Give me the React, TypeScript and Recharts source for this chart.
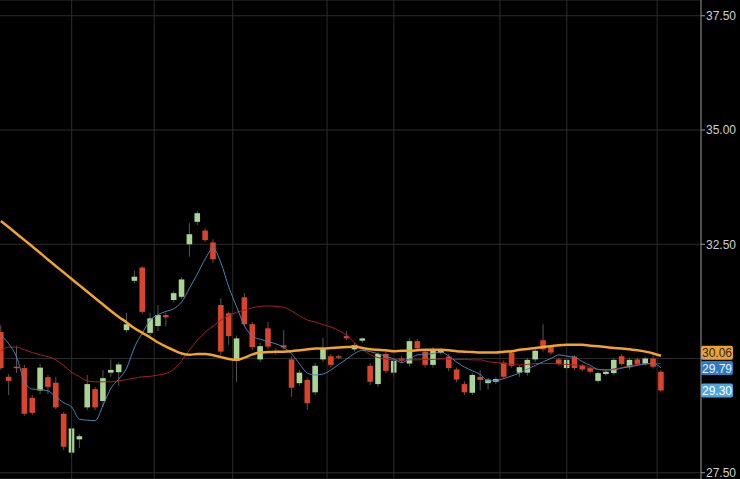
import React from 'react';
import { ComposedChart, Bar, Line, XAxis, YAxis, CartesianGrid, ReferenceLine } from 'recharts';

// daily candles (oldest first)
const opens = [
    30.58, 29.60, 29.82, 29.79, 29.14, 29.30, 29.59, 29.47, 28.79, 27.94,
    28.23, 28.93, 29.33, 29.07, 29.69, 29.70, 30.62, 31.70, 31.99, 30.56,
    30.71, 30.95, 31.28, 31.35, 32.50, 32.99, 32.80, 32.54, 31.17, 30.99,
    29.95, 31.34, 30.75, 29.98, 30.66, 30.16, 30.29, 29.98, 29.46, 29.53,
    29.26, 29.98, 30.05, 30.05, 30.49, 30.20, 30.39, 29.84, 29.44, 30.10,
    29.69, 30.00, 29.89, 30.38, 30.15, 29.86, 30.12, 30.04, 29.76, 29.44,
    29.25, 29.60, 29.46, 29.49, 29.91, 30.13, 29.69, 29.69, 29.98, 30.40,
    30.25, 29.98, 29.79, 30.04, 29.84, 29.79, 29.51, 29.66, 29.68, 30.05,
    29.81, 29.98, 29.88, 30.00, 29.71,
];
const highs = [
    30.73, 29.66, 30.28, 29.86, 29.20, 29.88, 29.64, 29.60, 28.83, 28.52,
    28.35, 29.64, 29.38, 29.75, 29.98, 29.92, 31.00, 31.92, 32.02, 31.00,
    31.17, 31.00, 31.48, 31.78, 32.96, 33.23, 32.85, 32.61, 31.32, 31.03,
    30.50, 31.43, 30.80, 30.35, 30.80, 30.22, 30.62, 30.05, 29.75, 29.58,
    29.90, 30.45, 30.10, 30.08, 30.60, 30.35, 30.46, 29.90, 30.15, 30.20,
    30.00, 30.05, 30.45, 30.43, 30.20, 30.25, 30.22, 30.10, 29.80, 29.50,
    29.68, 29.75, 29.58, 29.60, 29.96, 30.19, 29.85, 30.02, 30.22, 30.75,
    30.30, 30.02, 30.00, 30.08, 29.88, 29.82, 29.72, 29.75, 30.00, 30.10,
    30.02, 30.02, 30.04, 30.06, 29.75,
];
const lows = [
    29.75, 29.20, 29.68, 28.75, 28.76, 29.22, 29.22, 28.89, 28.00, 27.82,
    28.04, 28.87, 28.87, 28.94, 29.60, 29.40, 30.56, 31.65, 30.98, 30.50,
    30.60, 30.70, 31.22, 31.30, 32.23, 32.92, 32.55, 32.09, 30.08, 30.30,
    29.49, 30.70, 30.18, 29.92, 30.20, 30.08, 30.20, 29.16, 29.40, 28.88,
    29.20, 29.92, 29.80, 29.98, 30.40, 30.15, 30.34, 29.42, 29.38, 29.68,
    29.60, 29.90, 29.82, 30.18, 29.80, 29.80, 30.08, 29.72, 29.48, 29.20,
    29.20, 29.30, 29.32, 29.44, 29.55, 29.80, 29.60, 29.63, 29.92, 30.15,
    30.08, 29.84, 29.74, 29.74, 29.72, 29.67, 29.46, 29.62, 29.63, 29.84,
    29.76, 29.84, 29.84, 29.78, 29.26,
];
const closes = [
    29.79, 29.51, 29.80, 28.79, 28.81, 29.80, 29.38, 28.93, 28.07, 28.47,
    28.30, 29.44, 28.93, 29.57, 29.75, 29.87, 30.75, 31.79, 31.02, 30.88,
    30.95, 30.90, 31.43, 31.73, 32.72, 33.18, 32.59, 32.17, 30.15, 30.49,
    30.44, 30.75, 30.25, 30.27, 30.26, 30.12, 30.24, 29.36, 29.69, 29.02,
    29.84, 30.22, 29.86, 30.03, 30.44, 30.29, 30.44, 29.49, 30.10, 29.73,
    29.95, 29.95, 30.38, 30.22, 29.86, 30.19, 30.18, 29.79, 29.54, 29.26,
    29.64, 29.53, 29.54, 29.55, 29.60, 29.84, 29.81, 29.97, 30.17, 30.20,
    30.13, 29.88, 29.97, 29.79, 29.76, 29.71, 29.68, 29.71, 29.97, 29.88,
    29.97, 29.88, 30.00, 29.82, 29.30,
];

// moving averages as drawn on the chart
const maFast = [
    30.51, 30.32, 30.03, 29.49, 29.33, 29.32, 29.29, 29.16, 29.03, 28.94,
    28.67, 28.65, 28.64, 28.98, 29.35, 29.55, 29.79, 30.25, 30.56, 30.84,
    30.96, 31.03, 31.09, 31.24, 31.54, 31.85, 32.18, 32.41, 32.09, 31.56,
    31.13, 30.71, 30.49, 30.42, 30.37, 30.32, 30.24, 30.10, 29.88, 29.68,
    29.64, 29.66, 29.75, 29.87, 29.99, 30.11, 30.18, 30.15, 30.10, 30.05,
    29.99, 29.91, 29.99, 30.08, 30.09, 30.11, 30.14, 30.05, 29.92, 29.81,
    29.73, 29.65, 29.51, 29.52, 29.56, 29.62, 29.68, 29.77, 29.85, 29.93,
    30.00, 30.08, 30.05, 30.03, 29.93, 29.85, 29.76, 29.75, 29.75, 29.79,
    29.82, 29.85, 29.88, 29.89, 29.79,
];
const maMid = [
    30.16, 30.25, 30.25, 30.19, 30.13, 30.08, 30.04, 29.97, 29.84, 29.70,
    29.60, 29.51, 29.49, 29.49, 29.49, 29.51, 29.54, 29.57, 29.60, 29.61,
    29.64, 29.67, 29.77, 29.95, 30.19, 30.40, 30.58, 30.71, 30.84, 30.94,
    31.01, 31.06, 31.11, 31.14, 31.15, 31.14, 31.12, 31.04, 30.93, 30.84,
    30.80, 30.74, 30.69, 30.61, 30.51, 30.34, 30.20, 30.08, 30.02, 29.99,
    29.97, 29.97, 29.97, 29.97, 29.98, 29.98, 29.99, 29.99, 29.98, 29.98,
    29.97, 29.97, 29.93, 29.91, 29.89, 29.87, 29.86, 29.87, 29.89, 29.89,
    29.89, 29.88, 29.87, 29.86, 29.85, 29.80, 29.76, 29.75, 29.77, 29.80,
    29.84, 29.87, 29.88, 29.89, 29.89,
];
const maSlow = [
    33.01, 32.87, 32.73, 32.59, 32.45, 32.31, 32.16, 32.02, 31.88, 31.74,
    31.60, 31.46, 31.32, 31.18, 31.04, 30.91, 30.79, 30.66, 30.56, 30.46,
    30.35, 30.26, 30.18, 30.11, 30.08, 30.10, 30.10, 30.07, 30.03, 29.99,
    29.97, 30.02, 30.09, 30.13, 30.14, 30.15, 30.15, 30.16, 30.18, 30.20,
    30.22, 30.22, 30.23, 30.24, 30.25, 30.26, 30.23, 30.20, 30.19, 30.18,
    30.16, 30.17, 30.17, 30.18, 30.19, 30.19, 30.19, 30.18, 30.16, 30.15,
    30.14, 30.13, 30.13, 30.13, 30.15, 30.16, 30.19, 30.21, 30.23, 30.25,
    30.27, 30.29, 30.30, 30.30, 30.30, 30.28, 30.27, 30.25, 30.23, 30.22,
    30.20, 30.18, 30.15, 30.11, 30.06,
];

const priceTicks = [27.5, 30, 32.5, 35, 37.5];
// candle indexes where the period separators fall
const separators: { day: number; pos: 'start' | 'middle' }[] = [
    { day: 9, pos: 'middle' },
    { day: 20, pos: 'start' },
    { day: 30, pos: 'start' },
    { day: 42, pos: 'start' },
    { day: 50, pos: 'middle' },
    { day: 64, pos: 'start' },
    { day: 72, pos: 'middle' },
    { day: 84, pos: 'start' },
];

const data = opens.map((open, i) => ({
    i,
    open,
    high: highs[i],
    low: lows[i],
    close: closes[i],
    fast: maFast[i],
    mid: maMid[i],
    slow: maSlow[i],
}));

const UP = '#a9d593';
const DOWN = '#d9442b';
const GRID = '#2c2c2c';
const FONT = 'Liberation Sans, Arial, sans-serif';

const Candle = (props: any) => {
    const { x, y, width, height, payload } = props;
    const { open, close, high, low } = payload;
    const span = high - low;
    const ppu = span > 0 ? height / span : 0;
    const cx = x + width / 2;
    const toY = (v: number) => y + (high - v) * ppu;
    const top = toY(Math.max(open, close));
    const bottom = toY(Math.min(open, close));
    const fill = close >= open ? UP : DOWN;
    return (
        <g>
            <line x1={cx} x2={cx} y1={y} y2={y + height} stroke="#555" strokeWidth={1} />
            <rect x={cx - 2.8} y={top} width={5.6} height={Math.max(bottom - top, 1.5)} fill={fill} />
        </g>
    );
};

const badge = (text: string, bg: string, color: string, dy = 0) => (props: any) => {
    const { viewBox } = props;
    const left = viewBox.x + viewBox.width;
    const cy = viewBox.y + dy;
    return (
        <g>
            <rect x={left} y={cy - 7} width={32} height={14} rx={2} fill={bg} />
            <text x={left + 16} y={cy + 4.5} textAnchor="middle" fontSize={12} fontFamily={FONT} fill={color}>
                {text}
            </text>
        </g>
    );
};

const last = closes[closes.length - 1];
const lastFast = maFast[maFast.length - 1];
const lastSlow = maSlow[maSlow.length - 1];

const App: React.FC = () => {
    return (
        <div style={{ position: 'fixed', left: 0, top: 0, width: 740, height: 479, background: '#000', overflow: 'hidden' }}>
            <div style={{ position: 'absolute', left: -3, top: 0 }}>
                <ComposedChart width={743} height={479} data={data} margin={{ top: 0, right: 0, bottom: 0, left: 0 }}>
                    <CartesianGrid vertical={false} stroke={GRID} />
                    <XAxis dataKey="i" hide padding={{ left: 0, right: 36 }} />
                    <YAxis
                        orientation="right"
                        width={39}
                        domain={[27.363, 37.845]}
                        allowDataOverflow
                        ticks={priceTicks}
                        interval={0}
                        tickFormatter={(v: number) => (v === 30 ? '' : v.toFixed(2))}
                        axisLine={{ stroke: '#9a9a9a' }}
                        tickLine={{ stroke: '#9a9a9a' }}
                        tickSize={4}
                        tickMargin={1}
                        tick={{ fontSize: 12, fill: '#cfcfcf', fontFamily: FONT }}
                    />
                    {separators.map((s) => (
                        <ReferenceLine key={s.day} x={s.day} position={s.pos} stroke={GRID} />
                    ))}
                    <Bar dataKey={(d: any) => [d.low, d.high]} shape={Candle} isAnimationActive={false} />
                    <Line type="monotone" dataKey="mid" stroke="#a51f27" strokeWidth={1} dot={false} activeDot={false} isAnimationActive={false} />
                    <Line type="monotone" dataKey="fast" stroke="#4f82b6" strokeWidth={1} dot={false} activeDot={false} isAnimationActive={false} />
                    <Line type="monotone" dataKey="slow" stroke="#f3a22c" strokeWidth={2.5} dot={false} activeDot={false} isAnimationActive={false} />
                    <ReferenceLine y={lastSlow} stroke="none" label={badge(lastSlow.toFixed(2), '#f0a032', '#2a2a2a', -3)} />
                    <ReferenceLine y={lastFast} stroke="none" label={badge(lastFast.toFixed(2), '#2d7cc0', '#eef4ff')} />
                    <ReferenceLine y={last} stroke="none" label={badge(last.toFixed(2), '#4ea6df', '#ffffff')} />
                </ComposedChart>
            </div>
        </div>
    );
};

export default App;
